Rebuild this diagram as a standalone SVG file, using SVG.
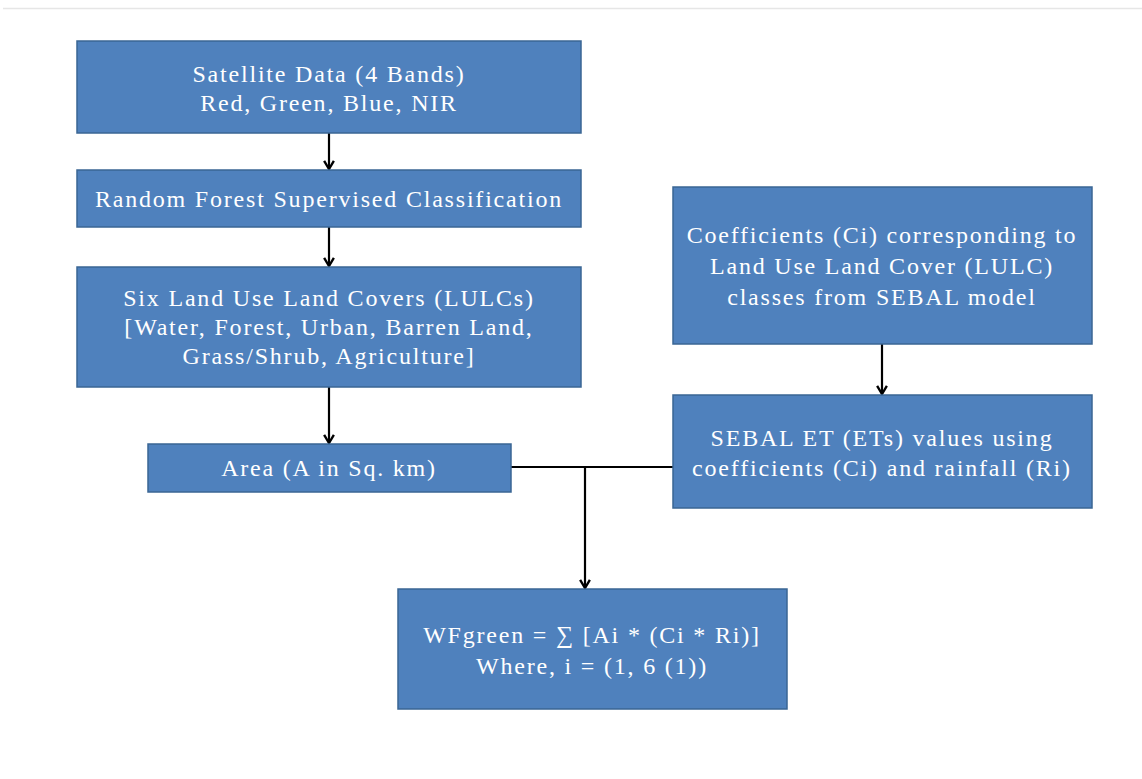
<svg xmlns="http://www.w3.org/2000/svg" width="1142" height="779" viewBox="0 0 1142 779">
  <style>
    .box { fill: #4F81BD; stroke: #3A6694; stroke-width: 1.5; }
    .lbl { font-family: "Liberation Serif", "Times New Roman", serif; font-size: 24px; letter-spacing: 1.8px; fill: #FFFFFF; text-anchor: middle; }
    .wire { fill: none; stroke: #000000; stroke-width: 2.2; }
    .arrow { fill: none; stroke: #000000; stroke-width: 2.2; marker-end: url(#head); }
  </style>
  <defs>
    <marker id="head" viewBox="0 0 12 12" refX="10" refY="6" markerWidth="13" markerHeight="13" markerUnits="userSpaceOnUse" orient="auto">
      <path d="M2.5,1.5 L10,6 L2.5,10.5" fill="none" stroke="#000000" stroke-width="2.2"/>
    </marker>
  </defs>

  <rect x="0" y="0" width="1142" height="779" fill="#FFFFFF"/>
  <line x1="3" y1="8.5" x2="1142" y2="8.5" stroke="#E6E6E6" stroke-width="1.5"/>

  <g id="connectors">
    <line class="arrow" x1="329" y1="133" x2="329" y2="169"/>
    <line class="arrow" x1="329" y1="227" x2="329" y2="266"/>
    <line class="arrow" x1="329" y1="387" x2="329" y2="443"/>
    <line class="arrow" x1="882" y1="344" x2="882" y2="394"/>
    <line class="wire" x1="511" y1="467" x2="673" y2="467"/>
    <line class="arrow" x1="585" y1="467" x2="585" y2="588"/>
  </g>

  <g id="satellite">
    <rect class="box" x="77" y="41" width="504" height="92"/>
    <text class="lbl" x="329" y="82">Satellite Data (4 Bands)</text>
    <text class="lbl" x="329" y="111">Red, Green, Blue, NIR</text>
  </g>

  <g id="classification">
    <rect class="box" x="77" y="170" width="504" height="57"/>
    <text class="lbl" x="329" y="207">Random Forest Supervised Classification</text>
  </g>

  <g id="lulc">
    <rect class="box" x="77" y="267" width="504" height="120"/>
    <text class="lbl" x="329" y="306">Six Land Use Land Covers (LULCs)</text>
    <text class="lbl" x="329" y="335">[Water, Forest, Urban, Barren Land,</text>
    <text class="lbl" x="329" y="364">Grass/Shrub, Agriculture]</text>
  </g>

  <g id="area">
    <rect class="box" x="148" y="444" width="363" height="48"/>
    <text class="lbl" x="329" y="476">Area (A in Sq. km)</text>
  </g>

  <g id="coefficients">
    <rect class="box" x="673" y="187" width="419" height="157"/>
    <text class="lbl" x="882" y="243">Coefficients (Ci) corresponding to</text>
    <text class="lbl" x="882" y="274">Land Use Land Cover (LULC)</text>
    <text class="lbl" x="882" y="305">classes from SEBAL model</text>
  </g>

  <g id="sebal-et">
    <rect class="box" x="673" y="395" width="419" height="113"/>
    <text class="lbl" x="882" y="446">SEBAL ET (ETs) values using</text>
    <text class="lbl" x="882" y="476">coefficients (Ci) and rainfall (Ri)</text>
  </g>

  <g id="wf-green">
    <rect class="box" x="398" y="589" width="389" height="120"/>
    <text class="lbl" x="592" y="643">WFgreen = ∑ [Ai * (Ci * Ri)]</text>
    <text class="lbl" x="592" y="674">Where, i = (1, 6 (1))</text>
  </g>
</svg>
